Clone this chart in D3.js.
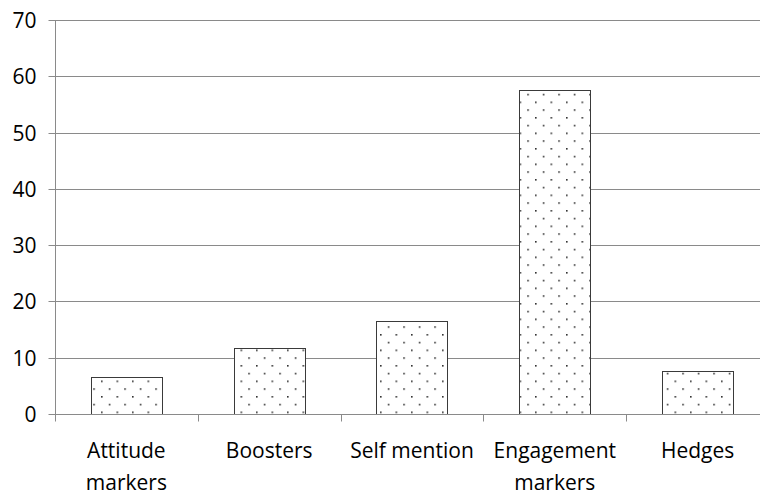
<!DOCTYPE html>
<html><head><meta charset="utf-8">
<script src="https://cdn.jsdelivr.net/npm/d3@7"></script>
<style>html,body{margin:0;padding:0;background:#fff;overflow:hidden}</style>
</head><body>
<script>
const categories = [["Attitude","markers"],["Boosters"],["Self mention"],["Engagement","markers"],["Hedges"]];
const values = [6.5, 11.8, 16.5, 57.6, 7.7];
const yTicks = [0,10,20,30,40,50,60,70];

const W = 760, H = 496;
const svg = d3.select("body").append("svg").attr("width", W).attr("height", H)
  .style("font-family", "'Open Sans', sans-serif");

const defs = svg.append("defs");
const pat = defs.append("pattern").attr("id","dots").attr("patternUnits","userSpaceOnUse")
  .attr("width",15.5).attr("height",15.5).attr("x",240.5).attr("y",349.5);
pat.append("rect").attr("width",15.5).attr("height",15.5).attr("fill","#fff");
pat.append("rect").attr("x",0).attr("y",0).attr("width",1.6).attr("height",1.6).attr("fill","#333");
pat.append("rect").attr("x",7.75).attr("y",7.75).attr("width",1.6).attr("height",1.6).attr("fill","#333");

const x = d3.scaleBand().domain(d3.range(categories.length)).range([55, 769]).paddingInner(0).paddingOuter(0);
const y = d3.scaleLinear().domain([0,70]).range([414, 20]);
const grid = "#8a8a8a";
const px = v => Math.round(v) + 0.5;

// gridlines
svg.append("g").selectAll("line").data(yTicks.filter(d=>d>0)).join("line")
  .attr("x1",55).attr("x2",W).attr("y1",d=>px(y(d))).attr("y2",d=>px(y(d)))
  .attr("stroke",grid).attr("stroke-width",1);

// y axis
const yAxis = d3.axisLeft(y).tickValues(yTicks).tickSize(7).tickPadding(12).tickSizeOuter(0);
const gy = svg.append("g").attr("transform","translate(55.5,0)").call(yAxis);
gy.select(".domain").attr("stroke",grid).attr("d",`M0,${px(y(70))-0.5}V${px(y(0))+7}`);
gy.selectAll(".tick").attr("transform",d=>`translate(0,${px(y(d))})`);
gy.selectAll(".tick line").attr("stroke",grid);
gy.selectAll(".tick text").attr("fill","#000").style("font-size","21px").style("font-family","'Open Sans', sans-serif").attr("dy","0.34em");

// bars
const bw = x.bandwidth()*0.5;
svg.append("g").selectAll("rect").data(values).join("rect")
  .attr("x",(d,i)=>px(x(i)+x.bandwidth()/2-bw/2))
  .attr("y",d=>px(y(d)))
  .attr("width",Math.round(bw))
  .attr("height",d=>px(y(0))-px(y(d)))
  .attr("fill","url(#dots)").attr("stroke","#3a3a3a").attr("stroke-width",1);

// x axis
const xAxis = d3.axisBottom(x).tickSize(0).tickFormat("");
const gx = svg.append("g").attr("transform",`translate(0,${px(y(0))})`).call(xAxis);
gx.select(".domain").attr("stroke",grid).attr("d",`M55,0H${W}`);
svg.append("g").selectAll("line").data(d3.range(1,categories.length)).join("line")
  .attr("x1",d=>px(x(d))).attr("x2",d=>px(x(d))).attr("y1",px(y(0))).attr("y2",px(y(0))+7)
  .attr("stroke",grid);

// category labels
const lab = svg.append("g").selectAll("text").data(categories).join("text")
  .attr("x",(d,i)=>x(i)+x.bandwidth()/2).attr("y",458)
  .attr("text-anchor","middle").style("font-size","21px").attr("fill","#000");
lab.selectAll("tspan").data(d=>d).join("tspan")
  .attr("x",function(){return this.parentNode.getAttribute("x");})
  .attr("dy",(d,i)=>i===0?0:32).text(d=>d);
</script>
</body></html>
